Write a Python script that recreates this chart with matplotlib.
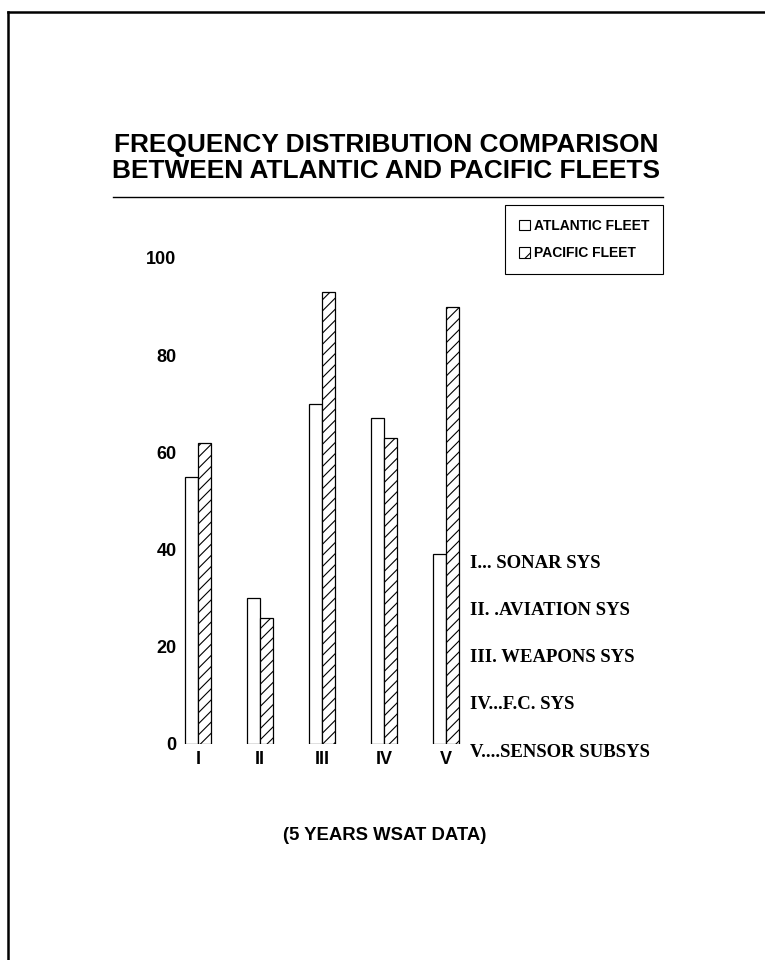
import matplotlib
matplotlib.use('Agg')
import matplotlib.pyplot as plt
import matplotlib.patches as mpatches
import numpy as np

# values
categories = ['I', 'II', 'III', 'IV', 'V']
atlantic = [55, 30, 70, 67, 39]
pacific = [62, 26, 93, 63, 90]
yticks = [0, 20, 40, 60, 80, 100]
system_labels = ['I... SONAR SYS', 'II. .AVIATION SYS', 'III. WEAPONS SYS',
                 'IV...F.C. SYS', 'V....SENSOR SUBSYS']

SANS = 'Liberation Sans'
SERIF = 'Liberation Serif'

def px(x, y):
    # pixel position (from top-left) -> figure fraction
    return x / 765.0, 1 - y / 960.0

def main():
    plt.rcParams['hatch.linewidth'] = 0.8
    fig = plt.figure(figsize=(7.65, 9.6), dpi=100)
    fig.patch.set_facecolor('white')

    # page border (left and top edges of the scanned sheet)
    fig.add_artist(plt.Line2D([8 / 765, 8 / 765], [0, 1 - 12 / 960],
                              color='black', lw=1.8, transform=fig.transFigure))
    fig.add_artist(plt.Line2D([8 / 765, 1], [1 - 12 / 960, 1 - 12 / 960],
                              color='black', lw=1.8, transform=fig.transFigure))

    # title + rule
    fig.text(*px(386, 145), 'FREQUENCY DISTRIBUTION COMPARISON', ha='center', va='center',
             fontsize=18.9, fontweight='bold', family=SANS)
    fig.text(*px(386, 171), 'BETWEEN ATLANTIC AND PACIFIC FLEETS', ha='center', va='center',
             fontsize=18.9, fontweight='bold', family=SANS)
    fig.add_artist(plt.Line2D([113 / 765, 663 / 765], [1 - 197 / 960, 1 - 197 / 960],
                              color='black', lw=1.0, transform=fig.transFigure))

    # axes: 0 at y=744px, 100 at y=258px; group spacing 62px, first group at x=198px
    left, right = 182, 480
    ax = fig.add_axes([left / 765, 1 - 744 / 960, (right - left) / 765, (744 - 258) / 960])
    spacing = 62.0
    ax.set_xlim(-(198 - left) / spacing, (right - 198) / spacing)
    ax.set_ylim(0, 100)

    x = np.arange(len(categories))
    w = 13 / spacing
    ax.bar(x - w / 2, atlantic, w, facecolor='white', edgecolor='black', linewidth=0.9)
    ax.bar(x + w / 2, pacific, w, facecolor='white', edgecolor='black', linewidth=0.9,
           hatch='///')

    for s in ax.spines.values():
        s.set_visible(False)
    ax.set_yticks(yticks)
    ax.set_xticks(x)
    ax.set_xticklabels(categories)
    ax.tick_params(length=0)
    ax.tick_params(axis='y', pad=4)
    ax.tick_params(axis='x', pad=5)
    for lab in ax.get_yticklabels() + ax.get_xticklabels():
        lab.set_fontfamily(SANS)
        lab.set_fontweight('bold')
        lab.set_fontsize(13)

    # legend
    handles = [mpatches.Patch(facecolor='white', edgecolor='black', linewidth=0.8,
                              label='ATLANTIC FLEET'),
               mpatches.Patch(facecolor='white', edgecolor='black', linewidth=0.8,
                              hatch='//', label='PACIFIC FLEET')]
    leg = fig.legend(handles=handles, loc='upper left', bbox_to_anchor=px(505, 205),
                     frameon=True, fancybox=False, edgecolor='black', framealpha=1,
                     handlelength=0.8, handleheight=0.8, handletextpad=0.3,
                     borderpad=1.0, labelspacing=0.95, borderaxespad=0,
                     prop={'family': SANS, 'weight': 'bold', 'size': 10})
    leg.get_frame().set_linewidth(0.8)

    # system key on the right
    for i, txt in enumerate(system_labels):
        fig.text(*px(470, 563 + i * 47.3), txt, ha='left', va='center',
                 fontsize=13.5, fontweight='bold', family=SERIF)

    fig.text(*px(385, 836), '(5 YEARS WSAT DATA)', ha='center', va='center',
             fontsize=13.3, fontweight='bold', family=SANS)

    fig.savefig('out.png', dpi=100)

if __name__ == '__main__':
    main()
